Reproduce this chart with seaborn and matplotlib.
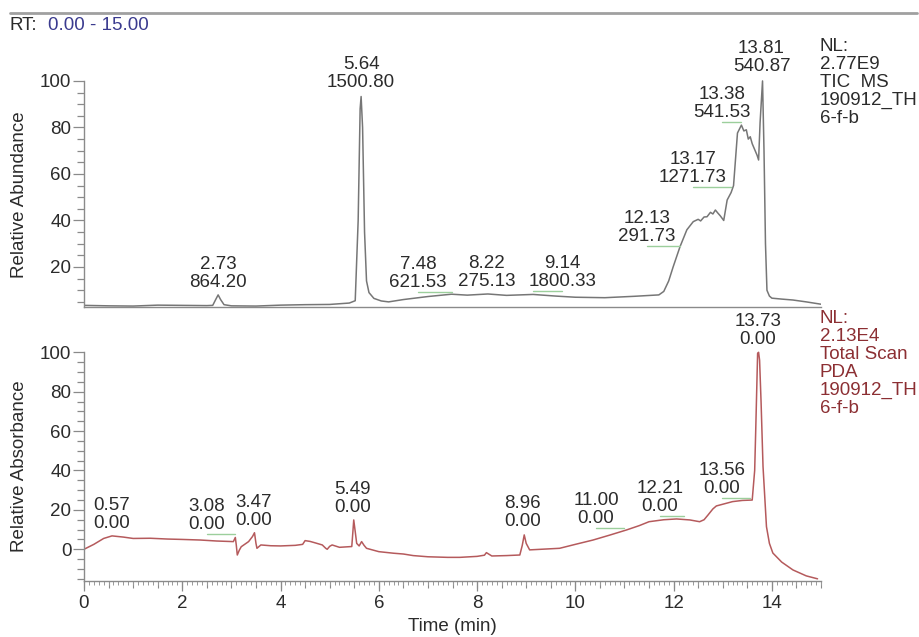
import numpy as np
import pandas as pd
import matplotlib
matplotlib.use("Agg")
import matplotlib.pyplot as plt
from matplotlib.lines import Line2D
from matplotlib.ticker import MultipleLocator, FixedLocator
import seaborn as sns

# --- TIC MS trace (retention time in min, relative abundance) ---
tic_rt = [0.0, 0.5, 1.0, 1.5, 2.0, 2.5, 2.62, 2.68, 2.73, 2.78, 2.85, 3.0, 3.5, 4.0,
          4.5, 5.0, 5.4, 5.52, 5.58, 5.62, 5.64, 5.67, 5.71, 5.75, 5.8, 5.9, 6.05,
          6.2, 6.5, 7.0, 7.48, 7.8, 8.22, 8.6, 9.14, 9.6, 10.0, 10.6, 11.2, 11.7,
          11.8, 11.9, 11.99, 12.13, 12.27, 12.4, 12.5, 12.55, 12.62, 12.68, 12.75,
          12.8, 12.85, 12.9, 12.95, 13.02, 13.09, 13.17, 13.22, 13.3, 13.38, 13.43,
          13.48, 13.52, 13.56, 13.6, 13.65, 13.7, 13.73, 13.76, 13.81, 13.84, 13.87,
          13.9, 13.95, 14.0, 14.2, 14.43, 14.7, 15.0]
tic_abund = [3.5, 3.3, 3.2, 3.6, 3.5, 3.4, 3.5, 6.0, 8.0, 6.0, 3.8, 3.3, 3.2, 3.6,
             3.8, 3.9, 4.5, 5.5, 40, 88, 93.3, 80, 35, 14, 9, 6.5, 5.4,
             5.0, 6.0, 7.3, 8.3, 7.9, 8.4, 7.8, 8.2, 7.5, 7.0, 6.8, 7.4, 8.0,
             9.5, 14, 20, 28.7, 36, 39.5, 40.5, 39.8, 41.5, 41.6, 43.5,
             42.8, 44.5, 43.2, 42, 40, 48.8, 52, 55, 77.6, 81, 78.5,
             79, 75, 76, 73, 70.5, 68, 66, 82, 100, 70, 30,
             10, 7.5, 6.6, 6.2, 5.8, 5.0, 4.0]

# --- PDA total scan trace (retention time in min, relative absorbance) ---
pda_rt = [0.0, 0.2, 0.4, 0.57, 0.8, 1.0, 1.35, 1.7, 2.0, 2.37, 2.7, 3.04, 3.08, 3.1,
          3.12, 3.16, 3.2, 3.35, 3.43, 3.47, 3.5, 3.52, 3.6, 3.8, 4.0, 4.3, 4.45,
          4.5, 4.6, 4.7, 4.85, 4.92, 4.95, 5.0, 5.05, 5.2, 5.45, 5.47, 5.49, 5.52,
          5.55, 5.6, 5.65, 5.7, 5.75, 6.0, 6.3, 6.5, 6.7, 7.0, 7.4, 7.65, 8.0,
          8.15, 8.19, 8.3, 8.6, 8.87, 8.92, 8.96, 9.0, 9.07, 9.3, 9.68, 10.0,
          10.36, 10.7, 11.04, 11.3, 11.5, 11.8, 12.06, 12.33, 12.53, 12.62, 12.7,
          12.8, 12.87, 13.2, 13.4, 13.6, 13.65, 13.67, 13.71, 13.73, 13.75, 13.78,
          13.82, 13.89, 13.95, 14.02, 14.2, 14.43, 14.7, 14.93]
pda_abs = [0.0, 2.5, 5.5, 6.8, 6.2, 5.5, 5.6, 5.2, 5.0, 4.7, 4.2, 3.9, 6.0, 2.0,
           -2.9, -0.5, 1.3, 3.9, 6.5, 8.4, 3.0, 0.5, 2.2, 1.8, 1.7, 2.0, 2.5,
           4.4, 4.0, 3.3, 2.2, 0.5, 0.0, 1.5, 2.2, 1.0, 1.4, 8.0, 14.9, 9.0,
           3.0, 1.7, 3.9, 2.0, 0.5, -1.2, -2.0, -2.4, -3.2, -3.8, -4.1, -4.1, -3.6,
           -3.0, -1.7, -3.4, -3.2, -2.9, 2.0, 7.3, 3.0, -0.3, 0.0, 0.5, 2.5,
           4.7, 7.2, 9.8, 12.0, 14.0, 15.0, 15.4, 14.9, 14.0, 15.0, 17.4,
           20.5, 22.0, 24.2, 24.8, 25.0, 40.0, 59.0, 99.5, 100.0, 96.0, 75.0,
           42.0, 11.5, 3.0, -1.9, -6.5, -10.5, -13.5, -15.0]

# --- peak annotations (RT, value) ---
tic_peak_rt = ["2.73", "5.64", "7.48", "8.22", "9.14", "12.13", "13.17", "13.38", "13.81"]
tic_peak_val = ["864.20", "1500.80", "621.53", "275.13", "1800.33", "291.73", "1271.73", "541.53", "540.87"]
pda_peak_rt = ["0.57", "3.08", "3.47", "5.49", "8.96", "11.00", "12.21", "13.56", "13.73"]
pda_peak_val = ["0.00"] * 9

# label anchor positions (layout) and whether a leader line is drawn
tic_label_pos = [(2.73, 9.7), (5.64, 95.7), (6.80, 9.7), (8.20, 10.1), (9.73, 10.1),
                 (11.45, 29.5), (12.39, 54.8), (12.98, 82.8), (13.79, 102.6)]
tic_leader = [False, False, True, False, True, True, True, True, False]
pda_label_pos = [(0.57, 8.8), (2.50, 8.3), (3.46, 10.3), (5.47, 16.9), (8.93, 9.8),
                 (10.42, 11.3), (11.72, 17.4), (12.98, 26.5), (13.71, 102.2)]
pda_leader = [False, True, False, False, False, True, True, True, False]

sns.set_style("white")
plt.rcParams["font.family"] = ["Liberation Sans", "DejaVu Sans"]

TXT = "#2b2b2b"
GREY = "#767676"
RED = "#b55a5c"
RED_TXT = "#8c2f33"
SPINE = "#8a8a8a"
FS = 13.5

fig = plt.figure(figsize=(9.2, 6.37), dpi=100)
W, H = 920, 637


def px_axes(left, top, right, bottom):
    return fig.add_axes([left / W, 1 - bottom / H, (right - left) / W, (bottom - top) / H])


ax1 = px_axes(84, 40, 821, 307)
ax2 = px_axes(84, 320, 821, 581)

tic_df = pd.DataFrame({"rt": tic_rt, "val": tic_abund})
pda_df = pd.DataFrame({"rt": pda_rt, "val": pda_abs})

sns.lineplot(data=tic_df, x="rt", y="val", ax=ax1, color=GREY, linewidth=1.1,
             estimator=None, sort=False)
sns.lineplot(data=pda_df, x="rt", y="val", ax=ax2, color=RED, linewidth=1.1,
             estimator=None, sort=False)

ax1.set_xlim(0, 15)
ax1.set_ylim(2.8, 117.6)
ax2.set_xlim(0, 15)
ax2.set_ylim(-16.1, 116.4)
ax1.spines["left"].set_bounds(2.8, 100)
ax2.spines["left"].set_bounds(-16.1, 100)

for ax in (ax1, ax2):
    for s in ("top", "right"):
        ax.spines[s].set_visible(False)
    for s in ("left", "bottom"):
        ax.spines[s].set_color(SPINE)
        ax.spines[s].set_linewidth(1.0)
    ax.tick_params(axis="y", which="major", direction="out", length=8, width=0.9,
                   color=SPINE, labelsize=FS, labelcolor=TXT, pad=1, left=True)
    ax.tick_params(axis="y", which="minor", direction="out", length=5, width=0.9,
                   color=SPINE, left=True)

ax1.yaxis.set_major_locator(FixedLocator([20, 40, 60, 80, 100]))
ax1.yaxis.set_minor_locator(FixedLocator(np.arange(5, 101, 5)))
ax1.set_xticks([])
ax1.set_xlabel("")
ax1.set_ylabel("Relative Abundance", fontsize=FS, color=TXT)
ax1.yaxis.set_label_coords(-0.076, 0.42)

ax2.yaxis.set_major_locator(FixedLocator([0, 20, 40, 60, 80, 100]))
ax2.yaxis.set_minor_locator(FixedLocator(np.arange(-15, 101, 5)))
ax2.xaxis.set_major_locator(MultipleLocator(2))
ax2.xaxis.set_minor_locator(MultipleLocator(0.1))
ax2.tick_params(axis="x", which="major", direction="out", length=7, width=0.9,
                color=SPINE, labelsize=FS, labelcolor=TXT, pad=3, bottom=True)
ax2.tick_params(axis="x", which="minor", direction="out", length=3, width=0.7,
                color="#9a9a9a", bottom=True)
# medium ticks every half minute
sec = ax2.secondary_xaxis("bottom")
sec.set_xticks(np.arange(0, 15.01, 0.5))
sec.tick_params(axis="x", direction="out", length=5, width=0.8, color=SPINE,
                labelbottom=False)
sec.spines["bottom"].set_visible(False)

ax2.set_ylabel("Relative Absorbance", fontsize=FS, color=TXT)
ax2.yaxis.set_label_coords(-0.076, 0.438)
ax2.set_xlabel("Time (min)", fontsize=FS, color=TXT)
ax2.xaxis.set_label_coords(0.5, -0.14)

# peak labels
for ax, rts, vals, pos, lead in ((ax1, tic_peak_rt, tic_peak_val, tic_label_pos, tic_leader),
                                  (ax2, pda_peak_rt, pda_peak_val, pda_label_pos, pda_leader)):
    for rt, v, (lx, ly), ld in zip(rts, vals, pos, lead):
        ax.text(lx, ly, f"{rt}\n{v}", ha="center", va="bottom", fontsize=FS,
                color=TXT, linespacing=1.1, clip_on=False)
        if ld:
            ax.plot([lx, float(rt)], [ly - 0.5, ly - 0.5], color="#9ccf9c", lw=1.0)

# side info blocks
fig.text(820 / W, 1 - 38 / H, "NL:\n2.77E9\nTIC  MS\n190912_TH\n6-f-b", ha="left", va="top",
         fontsize=FS, color=TXT, linespacing=1.08)
fig.text(820 / W, 1 - 310 / H, "NL:\n2.13E4\nTotal Scan\nPDA\n190912_TH\n6-f-b", ha="left",
         va="top", fontsize=FS, color=RED_TXT, linespacing=1.08)

# header
fig.add_artist(Line2D([10 / W, 917 / W], [1 - 13 / H, 1 - 13 / H], color="#a0a0a0", lw=2))
fig.text(10 / W, 1 - 25 / H, "RT:", ha="left", va="center", fontsize=FS, color=TXT)
fig.text(48 / W, 1 - 25 / H, "0.00 - 15.00", ha="left", va="center", fontsize=FS, color="#3b3b8f")

fig.savefig("out.png", dpi=100)
